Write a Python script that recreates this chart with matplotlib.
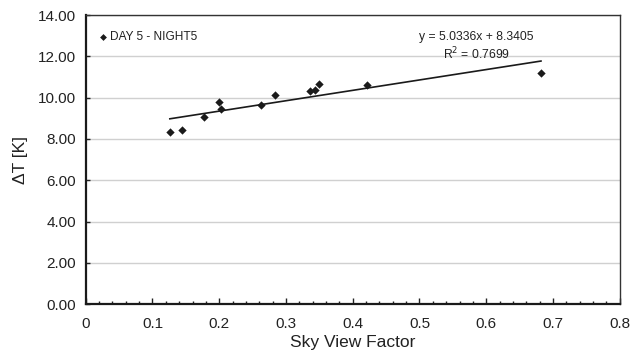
import matplotlib
matplotlib.use("Agg")
import matplotlib.pyplot as plt
import numpy as np
from matplotlib.ticker import MultipleLocator, FormatStrFormatter

plt.rcParams['font.family'] = ['Liberation Sans', 'DejaVu Sans']

svf = [0.126, 0.144, 0.177, 0.200, 0.202, 0.263, 0.284, 0.336, 0.344, 0.350, 0.421, 0.682]
dT = [8.35, 8.42, 9.05, 9.79, 9.44, 9.62, 10.13, 10.33, 10.36, 10.64, 10.59, 11.17]
slope = 5.0336
intercept = 8.3405
r2 = 0.7699
series_label = "DAY 5 - NIGHT5"

fig = plt.figure(figsize=(6.35, 3.59), dpi=100)
ax = fig.add_axes([0.135, 0.153, 0.841, 0.805])

ax.scatter(svf, dT, marker='D', s=18, color='#1a1a1a', zorder=3, linewidths=0)
xs = np.array([min(svf), max(svf)])
ax.plot(xs, slope * xs + intercept, color='#1a1a1a', lw=1.2, zorder=2)

ax.set_xlim(0, 0.8)
ax.set_ylim(0, 14)
ax.xaxis.set_major_locator(MultipleLocator(0.1))
ax.xaxis.set_minor_locator(MultipleLocator(0.02))
ax.yaxis.set_major_locator(MultipleLocator(2))
ax.yaxis.set_major_formatter(FormatStrFormatter('%.2f'))
ax.set_xticks(np.arange(0, 0.81, 0.1))
ax.set_xticklabels(['0', '0.1', '0.2', '0.3', '0.4', '0.5', '0.6', '0.7', '0.8'])

ax.grid(axis='y', color='#d0d0d0', lw=1.0)
ax.set_axisbelow(True)
ax.tick_params(axis='x', which='major', direction='in', length=4, width=1, labelsize=11, colors='#222222', pad=9)
ax.tick_params(axis='x', which='minor', direction='in', length=2.5, width=1, colors='#222222')
ax.tick_params(axis='y', which='major', direction='in', length=3, width=1, labelsize=11, colors='#222222', pad=7)
for s in ['left', 'bottom']:
    ax.spines[s].set_linewidth(1.6)
    ax.spines[s].set_color('#1a1a1a')
for s in ['top', 'right']:
    ax.spines[s].set_linewidth(1.0)
    ax.spines[s].set_color('#333333')

ax.set_xlabel('Sky View Factor', fontsize=12.5, color='#222222', labelpad=3)
ax.set_ylabel('ΔT [K]', fontsize=12.5, color='#222222', labelpad=7)

# legend
ax.scatter([0.026], [12.92], marker='D', s=12, color='#1a1a1a', linewidths=0, clip_on=False)
ax.text(0.036, 12.92, series_label, fontsize=8.6, va='center', ha='left', color='#222222')

ax.text(0.585, 12.92, 'y = %.4fx + %.4f' % (slope, intercept), fontsize=8.7, ha='center', va='center', color='#222222')
ax.text(0.585, 12.12, 'R$^2$ = %.4f' % r2, fontsize=8.7, ha='center', va='center', color='#222222')

fig.savefig('out.png', dpi=100)
